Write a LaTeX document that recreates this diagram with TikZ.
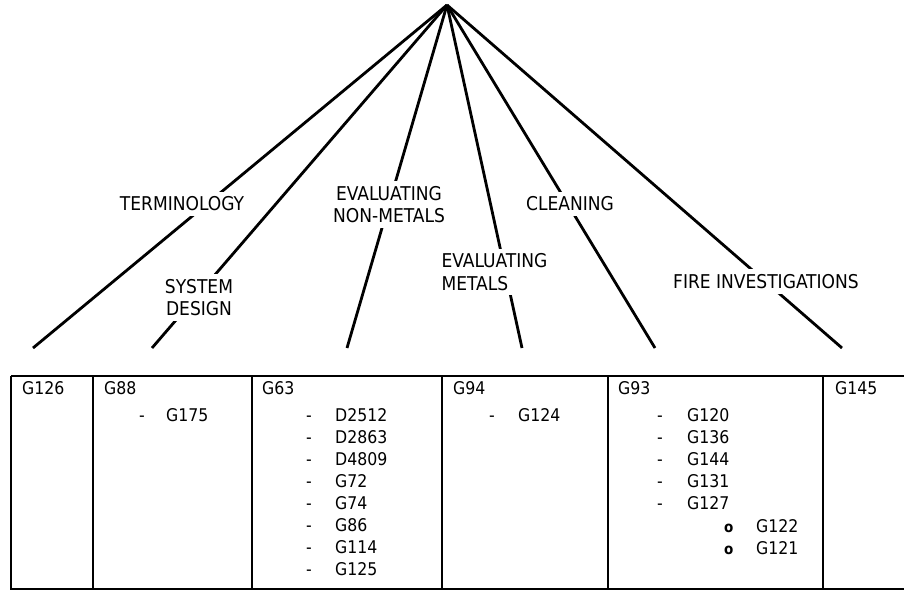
\documentclass[tikz,border=0pt]{standalone}
\usepackage{fontspec}
\setmainfont{DejaVu Sans Condensed}
\usetikzlibrary{positioning}

\begin{document}
\begin{tikzpicture}[x=1pt, y=-1pt,
    branch/.style={line width=2.8pt},
    rule/.style={line width=2.1pt},
    topic/.style={fill=white, inner sep=5pt, align=center, font=\fontsize{19}{22.5}\selectfont},
    cell/.style={anchor=base west, inner sep=0pt, font=\fontsize{17.5}{22}\selectfont},
    ring/.style={anchor=base west, inner sep=0pt, font=\bfseries\fontsize{15}{22}\selectfont}]
    \useasboundingbox (0,0) rectangle (904,591);
    \clip (0,0) rectangle (904,591);

    % Branches
    \coordinate (apex) at (447,5);
    \coordinate (e1) at (33,348);
    \coordinate (e2) at (152,348);
    \coordinate (e3) at (347,348);
    \coordinate (e4) at (522,348);
    \coordinate (e5) at (655,348);
    \coordinate (e6) at (842,348);
    \foreach \e in {e1,e2,e3,e4,e5,e6}
        \draw[branch] (apex) -- (\e);

    % Topics
    \node[topic] (term) at (182,204) {TERMINOLOGY};
    \node[topic] (sysdes) at (199,297.5) {SYSTEM\\DESIGN};
    \node[topic] (nonmet) at (389,204.7) {EVALUATING\\NON-METALS};
    \node[topic, align=left] (metals) at (494.5,272) {EVALUATING\\METALS};
    \node[topic] (clean) at (570,204) {CLEANING};
    \node[topic] (fire) at (766,281.5) {FIRE INVESTIGATIONS};

    % Table
    \draw[rule] (11,376) -- (910,376);
    \draw[rule] (10,589) -- (910,589);
    \foreach \x in {11,93,252,442,608,823}
        \draw[rule] (\x,376) -- (\x,589);

    % Column heads
    \node[cell] (g126) at (22,394.3) {G126};
    \node[cell] (g88) at (104,394.3) {G88};
    \node[cell] (g63) at (262,394.3) {G63};
    \node[cell] (g94) at (453,394.3) {G94};
    \node[cell] (g93) at (618,394.3) {G93};
    \node[cell] (g145) at (835,394.3) {G145};

    % Lists
    \node[cell] (d88) at (139,421.7) {-};
    \node[cell] (g175) at (166,421.7) {G175};
    \foreach \code [count=\i from 0] in {D2512,D2863,D4809,G72,G74,G86,G114,G125} {
        \node[cell] (d63-\i) at (306,421.7+22*\i) {-};
        \node[cell] (l63-\i) at (335,421.7+22*\i) {\code};
    }
    \node[cell] (d94) at (489,421.7) {-};
    \node[cell] (g124) at (518,421.7) {G124};
    \foreach \code [count=\i from 0] in {G120,G136,G144,G131,G127} {
        \node[cell] (d93-\i) at (657,421.7+22*\i) {-};
        \node[cell] (l93-\i) at (687,421.7+22*\i) {\code};
    }
    \node[ring] (o122) at (724,532.7) {o};
    \node[cell] (g122) at (756,532.7) {G122};
    \node[ring] (o121) at (724,554.7) {o};
    \node[cell] (g121) at (756,554.7) {G121};
\end{tikzpicture}
\end{document}
